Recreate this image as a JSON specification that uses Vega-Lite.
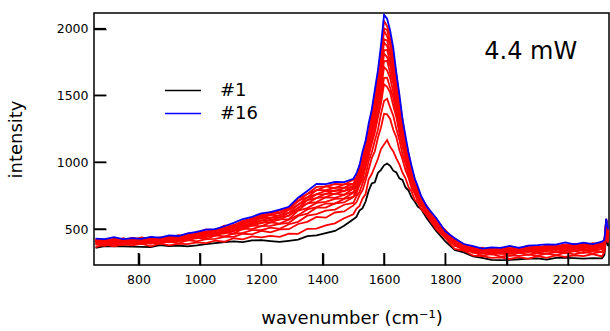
{
 "$schema": "https://vega.github.io/schema/vega-lite/v6.json",
 "width": 515, "height": 252,
 "autosize": {"type": "none"},
 "padding": {"left": 94, "top": 13, "right": 1, "bottom": 66},
 "config": {
  "font": "DejaVu Sans",
  "view": {"stroke": "#000", "strokeWidth": 1.5},
  "axis": {"grid": false, "domain": false, "tickColor": "#000", "tickWidth": 1.5, "tickSize": 12, "offset": -12, "zindex": 1, "labelColor": "#000", "titleColor": "#000", "labelFontSize": 12.5, "titleFontSize": 18, "titleFontWeight": "normal", "labelFont": "DejaVu Sans", "titleFont": "DejaVu Sans"}
 },
 "layer": [
  {
   "data": {"values": [
    {"x":660,"s01":359,"s02":364,"s03":388,"s04":384,"s05":407,"s06":394,"s07":412,"s08":393,"s09":411,"s10":401,"s11":423,"s12":408,"s13":423,"s14":408,"s15":420,"s16":429},
    {"x":690,"s01":373,"s02":384,"s03":375,"s04":395,"s05":390,"s06":411,"s07":399,"s08":413,"s09":400,"s10":412,"s11":402,"s12":420,"s13":407,"s14":422,"s15":415,"s16":424},
    {"x":720,"s01":370,"s02":370,"s03":392,"s04":383,"s05":399,"s06":390,"s07":410,"s08":398,"s09":413,"s10":407,"s11":424,"s12":413,"s13":426,"s14":409,"s15":426,"s16":440},
    {"x":750,"s01":370,"s02":385,"s03":381,"s04":400,"s05":396,"s06":414,"s07":405,"s08":419,"s09":402,"s10":418,"s11":411,"s12":430,"s13":419,"s14":430,"s15":418,"s16":424},
    {"x":780,"s01":368,"s02":378,"s03":400,"s04":387,"s05":407,"s06":400,"s07":422,"s08":410,"s09":423,"s10":411,"s11":423,"s12":413,"s13":431,"s14":418,"s15":434,"s16":432},
    {"x":810,"s01":367,"s02":391,"s03":388,"s04":406,"s05":397,"s06":410,"s07":402,"s08":422,"s09":409,"s10":425,"s11":418,"s12":435,"s13":425,"s14":438,"s15":421,"s16":427},
    {"x":840,"s01":365,"s02":371,"s03":399,"s04":390,"s05":409,"s06":403,"s07":422,"s08":412,"s09":425,"s10":409,"s11":425,"s12":417,"s13":437,"s14":424,"s15":438,"s16":442},
    {"x":870,"s01":380,"s02":392,"s03":391,"s04":409,"s05":396,"s06":413,"s07":407,"s08":431,"s09":416,"s10":429,"s11":417,"s12":429,"s13":421,"s14":437,"s15":424,"s16":436},
    {"x":900,"s01":373,"s02":378,"s03":409,"s04":400,"s05":418,"s06":407,"s07":421,"s08":412,"s09":431,"s10":418,"s11":434,"s12":427,"s13":445,"s14":434,"s15":447,"s16":453},
    {"x":930,"s01":377,"s02":391,"s03":392,"s04":416,"s05":408,"s06":424,"s07":420,"s08":438,"s09":428,"s10":445,"s11":426,"s12":442,"s13":435,"s14":455,"s15":443,"s16":448},
    {"x":960,"s01":371,"s02":387,"s03":418,"s04":413,"s05":432,"s06":417,"s07":436,"s08":434,"s09":452,"s10":440,"s11":454,"s12":442,"s13":455,"s14":445,"s15":465,"s16":468},
    {"x":990,"s01":378,"s02":400,"s03":408,"s04":436,"s05":430,"s06":446,"s07":437,"s08":452,"s09":443,"s10":463,"s11":452,"s12":468,"s13":463,"s14":480,"s15":471,"s16":479},
    {"x":1020,"s01":387,"s02":395,"s03":425,"s04":423,"s05":449,"s06":439,"s07":458,"s08":454,"s09":473,"s10":465,"s11":480,"s12":464,"s13":482,"s14":475,"s15":497,"s16":496},
    {"x":1050,"s01":395,"s02":414,"s03":426,"s04":452,"s05":450,"s06":467,"s07":455,"s08":474,"s09":469,"s10":491,"s11":484,"s12":495,"s13":485,"s14":498,"s15":491,"s16":499},
    {"x":1080,"s01":402,"s02":405,"s03":442,"s04":445,"s05":475,"s06":466,"s07":484,"s08":475,"s09":490,"s10":483,"s11":504,"s12":493,"s13":511,"s14":505,"s15":525,"s16":521},
    {"x":1110,"s01":408,"s02":431,"s03":442,"s04":465,"s05":467,"s06":490,"s07":483,"s08":503,"s09":499,"s10":520,"s11":512,"s12":527,"s13":514,"s14":532,"s15":528,"s16":546},
    {"x":1140,"s01":402,"s02":423,"s03":465,"s04":472,"s05":503,"s06":498,"s07":518,"s08":507,"s09":527,"s10":523,"s11":548,"s12":537,"s13":555,"s14":544,"s15":561,"s16":575},
    {"x":1170,"s01":415,"s02":445,"s03":460,"s04":492,"s05":500,"s06":527,"s07":523,"s08":543,"s09":535,"s10":552,"s11":548,"s12":569,"s13":561,"s14":580,"s15":578,"s16":592},
    {"x":1200,"s01":417,"s02":438,"s03":487,"s04":492,"s05":522,"s06":520,"s07":548,"s08":543,"s09":564,"s10":563,"s11":586,"s12":579,"s13":598,"s14":585,"s15":607,"s16":617},
    {"x":1230,"s01":410,"s02":449,"s03":476,"s04":511,"s05":524,"s06":550,"s07":550,"s08":572,"s09":562,"s10":585,"s11":583,"s12":608,"s13":602,"s14":628,"s15":613,"s16":626},
    {"x":1260,"s01":404,"s02":441,"s03":497,"s04":501,"s05":539,"s06":541,"s07":573,"s08":570,"s09":590,"s10":585,"s11":604,"s12":599,"s13":625,"s14":617,"s15":640,"s16":645},
    {"x":1290,"s01":412,"s02":465,"s03":499,"s04":536,"s05":547,"s06":570,"s07":574,"s08":603,"s09":598,"s10":622,"s11":623,"s12":646,"s13":643,"s14":662,"s15":654,"s16":667},
    {"x":1320,"s01":421,"s02":464,"s03":538,"s04":554,"s05":598,"s06":604,"s07":638,"s08":640,"s09":663,"s10":656,"s11":683,"s12":682,"s13":712,"s14":706,"s15":730,"s16":735},
    {"x":1350,"s01":447,"s02":502,"s03":554,"s04":600,"s05":615,"s06":647,"s07":657,"s08":693,"s09":691,"s10":716,"s11":715,"s12":735,"s13":737,"s14":763,"s15":762,"s16":785},
    {"x":1380,"s01":453,"s02":503,"s03":591,"s04":612,"s05":660,"s06":664,"s07":696,"s08":702,"s09":733,"s10":732,"s11":760,"s12":762,"s13":792,"s14":790,"s15":815,"s16":838},
    {"x":1410,"s01":469,"s02":527,"s03":585,"s04":638,"s05":660,"s06":691,"s07":704,"s08":738,"s09":739,"s10":765,"s11":761,"s12":786,"s13":791,"s14":820,"s15":819,"s16":836},
    {"x":1440,"s01":486,"s02":543,"s03":624,"s04":646,"s05":692,"s06":691,"s07":726,"s08":733,"s09":765,"s10":764,"s11":789,"s12":785,"s13":809,"s14":807,"s15":837,"s16":852},
    {"x":1470,"s01":525,"s02":581,"s03":632,"s04":682,"s05":699,"s06":726,"s07":730,"s08":756,"s09":757,"s10":786,"s11":783,"s12":806,"s13":810,"s14":834,"s15":834,"s16":851},
    {"x":1500,"s01":574,"s02":611,"s03":677,"s04":695,"s05":740,"s06":740,"s07":771,"s08":777,"s09":803,"s10":802,"s11":825,"s12":815,"s13":841,"s14":839,"s15":869,"s16":876},
    {"x":1510,"s01":591,"s02":651,"s03":700,"s04":746,"s05":764,"s06":791,"s07":791,"s08":820,"s09":822,"s10":853,"s11":850,"s12":871,"s13":868,"s14":887,"s15":888,"s16":916},
    {"x":1520,"s01":638,"s02":672,"s03":752,"s04":777,"s05":830,"s06":833,"s07":865,"s08":867,"s09":891,"s10":893,"s11":923,"s12":919,"s13":946,"s14":947,"s15":976,"s16":977},
    {"x":1530,"s01":656,"s02":729,"s03":791,"s04":842,"s05":871,"s06":908,"s07":918,"s08":951,"s09":958,"s10":990,"s11":993,"s12":1017,"s13":1014,"s14":1040,"s15":1047,"s16":1081},
    {"x":1540,"s01":706,"s02":762,"s03":864,"s04":902,"s05":964,"s06":974,"s07":1014,"s08":1018,"s09":1051,"s10":1060,"s11":1096,"s12":1096,"s13":1125,"s14":1124,"s15":1153,"s16":1160},
    {"x":1550,"s01":787,"s02":872,"s03":946,"s04":1009,"s05":1048,"s06":1090,"s07":1105,"s08":1140,"s09":1145,"s10":1174,"s11":1182,"s12":1213,"s13":1217,"s14":1245,"s15":1255,"s16":1290},
    {"x":1560,"s01":841,"s02":912,"s03":1031,"s04":1073,"s05":1140,"s06":1156,"s07":1207,"s08":1220,"s09":1256,"s10":1270,"s11":1307,"s12":1312,"s13":1345,"s14":1343,"s15":1380,"s16":1393},
    {"x":1570,"s01":850,"s02":968,"s03":1082,"s04":1163,"s05":1222,"s06":1271,"s07":1299,"s08":1344,"s09":1352,"s10":1393,"s11":1411,"s12":1449,"s13":1461,"s14":1493,"s15":1505,"s16":1542},
    {"x":1580,"s01":920,"s02":1024,"s03":1183,"s04":1242,"s05":1334,"s06":1363,"s07":1428,"s08":1452,"s09":1494,"s10":1510,"s11":1552,"s12":1563,"s13":1610,"s14":1619,"s15":1663,"s16":1685},
    {"x":1590,"s01":943,"s02":1099,"s03":1259,"s04":1362,"s05":1439,"s06":1495,"s07":1538,"s08":1600,"s09":1622,"s10":1672,"s11":1699,"s12":1742,"s13":1766,"s14":1804,"s15":1822,"s16":1873},
    {"x":1600,"s01":977,"s02":1133,"s03":1362,"s04":1459,"s05":1584,"s06":1631,"s07":1713,"s08":1756,"s09":1812,"s10":1838,"s11":1896,"s12":1920,"s13":1983,"s14":2001,"s15":2057,"s16":2103},
    {"x":1610,"s01":990,"s02":1166,"s03":1358,"s04":1476,"s05":1565,"s06":1632,"s07":1687,"s08":1759,"s09":1787,"s10":1841,"s11":1869,"s12":1911,"s13":1942,"s14":1990,"s15":2018,"s16":2074},
    {"x":1620,"s01":973,"s02":1115,"s03":1324,"s04":1410,"s05":1522,"s06":1558,"s07":1629,"s08":1667,"s09":1723,"s10":1749,"s11":1802,"s12":1824,"s13":1879,"s14":1896,"s15":1948,"s16":1985},
    {"x":1630,"s01":937,"s02":1083,"s03":1243,"s04":1349,"s05":1425,"s06":1483,"s07":1528,"s08":1589,"s09":1612,"s10":1659,"s11":1676,"s12":1717,"s13":1743,"s14":1789,"s15":1810,"s16":1857},
    {"x":1640,"s01":924,"s02":1029,"s03":1188,"s04":1251,"s05":1338,"s06":1357,"s07":1417,"s08":1445,"s09":1493,"s10":1509,"s11":1550,"s12":1558,"s13":1598,"s14":1609,"s15":1656,"s16":1671},
    {"x":1650,"s01":879,"s02":985,"s03":1090,"s04":1169,"s05":1215,"s06":1257,"s07":1279,"s08":1319,"s09":1331,"s10":1372,"s11":1381,"s12":1413,"s13":1428,"s14":1461,"s15":1473,"s16":1508},
    {"x":1660,"s01":867,"s02":923,"s03":1022,"s04":1057,"s05":1120,"s06":1128,"s07":1170,"s08":1184,"s09":1218,"s10":1224,"s11":1253,"s12":1249,"s13":1281,"s14":1285,"s15":1322,"s16":1326},
    {"x":1670,"s01":811,"s02":880,"s03":941,"s04":993,"s05":1017,"s06":1046,"s07":1050,"s08":1082,"s09":1087,"s10":1120,"s11":1119,"s12":1142,"s13":1141,"s14":1162,"s15":1165,"s16":1196},
    {"x":1680,"s01":788,"s02":813,"s03":882,"s04":901,"s05":948,"s06":947,"s07":976,"s08":975,"s09":997,"s10":996,"s11":1024,"s12":1018,"s13":1042,"s14":1042,"s15":1068,"s16":1067},
    {"x":1690,"s01":736,"s02":780,"s03":807,"s04":839,"s05":849,"s06":876,"s07":874,"s08":898,"s09":898,"s10":922,"s11":917,"s12":935,"s13":925,"s14":945,"s15":944,"s16":971},
    {"x":1700,"s01":706,"s02":718,"s03":765,"s04":774,"s05":807,"s06":803,"s07":825,"s08":815,"s09":836,"s10":833,"s11":859,"s12":849,"s13":867,"s14":858,"s15":875,"s16":878},
    {"x":1710,"s01":667,"s02":699,"s03":707,"s04":735,"s05":739,"s06":764,"s07":757,"s08":775,"s09":766,"s10":781,"s11":775,"s12":795,"s13":786,"s14":803,"s15":799,"s16":820},
    {"x":1720,"s01":651,"s02":653,"s03":684,"s04":680,"s05":701,"s06":695,"s07":718,"s08":708,"s09":725,"s10":721,"s11":740,"s12":731,"s13":746,"s14":730,"s15":749,"s16":752},
    {"x":1740,"s01":580,"s02":600,"s03":602,"s04":624,"s05":624,"s06":643,"s07":636,"s08":651,"s09":636,"s10":653,"s11":647,"s12":668,"s13":656,"s14":670,"s15":658,"s16":666},
    {"x":1770,"s01":486,"s02":500,"s03":527,"s04":516,"s05":539,"s06":533,"s07":556,"s08":546,"s09":560,"s10":548,"s11":562,"s12":552,"s13":572,"s14":559,"s15":576,"s16":583},
    {"x":1800,"s01":407,"s02":433,"s03":433,"s04":452,"s05":445,"s06":459,"s07":452,"s08":472,"s09":460,"s10":476,"s11":471,"s12":488,"s13":478,"s14":492,"s15":476,"s16":482},
    {"x":1830,"s01":343,"s02":351,"s03":382,"s04":374,"s05":395,"s06":389,"s07":409,"s08":400,"s09":414,"s10":398,"s11":415,"s12":407,"s13":428,"s14":415,"s15":429,"s16":432},
    {"x":1860,"s01":325,"s02":339,"s03":339,"s04":357,"s05":345,"s06":362,"s07":357,"s08":378,"s09":366,"s10":380,"s11":367,"s12":380,"s13":370,"s14":388,"s15":376,"s16":388},
    {"x":1890,"s01":296,"s02":301,"s03":331,"s04":322,"s05":340,"s06":328,"s07":342,"s08":333,"s09":351,"s10":341,"s11":354,"s12":347,"s13":365,"s14":354,"s15":367,"s16":373},
    {"x":1920,"s01":284,"s02":298,"s03":299,"s04":322,"s05":314,"s06":330,"s07":326,"s08":344,"s09":334,"s10":348,"s11":331,"s12":348,"s13":340,"s14":360,"s15":348,"s16":353},
    {"x":1950,"s01":269,"s02":285,"s03":314,"s04":309,"s05":328,"s06":312,"s07":331,"s08":325,"s09":346,"s10":334,"s11":348,"s12":335,"s13":349,"s14":339,"s15":358,"s16":363},
    {"x":1980,"s01":267,"s02":288,"s03":294,"s04":320,"s05":314,"s06":329,"s07":319,"s08":334,"s09":325,"s10":344,"s11":333,"s12":348,"s13":343,"s14":360,"s15":351,"s16":359},
    {"x":2010,"s01":269,"s02":276,"s03":303,"s04":300,"s05":326,"s06":315,"s07":334,"s08":329,"s09":348,"s10":339,"s11":353,"s12":337,"s13":355,"s14":348,"s15":369,"s16":374},
    {"x":2040,"s01":274,"s02":290,"s03":299,"s04":323,"s05":320,"s06":335,"s07":322,"s08":341,"s09":335,"s10":356,"s11":345,"s12":359,"s13":348,"s14":360,"s15":352,"s16":360},
    {"x":2070,"s01":278,"s02":277,"s03":309,"s04":309,"s05":337,"s06":327,"s07":343,"s08":333,"s09":347,"s10":339,"s11":359,"s12":347,"s13":363,"s14":357,"s15":376,"s16":376},
    {"x":2100,"s01":281,"s02":298,"s03":301,"s04":321,"s05":319,"s06":340,"s07":331,"s08":349,"s09":344,"s10":362,"s11":353,"s12":367,"s13":352,"s14":369,"s15":363,"s16":380},
    {"x":2130,"s01":272,"s02":284,"s03":316,"s04":317,"s05":342,"s06":334,"s07":351,"s08":337,"s09":355,"s10":349,"s11":371,"s12":359,"s13":374,"s14":362,"s15":376,"s16":386},
    {"x":2160,"s01":285,"s02":303,"s03":304,"s04":328,"s05":328,"s06":351,"s07":342,"s08":358,"s09":347,"s10":362,"s11":354,"s12":373,"s13":362,"s14":378,"s15":373,"s16":384},
    {"x":2190,"s01":285,"s02":292,"s03":323,"s04":319,"s05":339,"s06":333,"s07":355,"s08":345,"s09":362,"s10":358,"s11":377,"s12":367,"s13":382,"s14":367,"s15":385,"s16":400},
    {"x":2220,"s01":282,"s02":304,"s03":310,"s04":334,"s05":335,"s06":356,"s07":349,"s08":366,"s09":351,"s10":369,"s11":364,"s12":385,"s13":374,"s14":388,"s15":378,"s16":386},
    {"x":2250,"s01":279,"s02":297,"s03":328,"s04":320,"s05":345,"s06":341,"s07":366,"s08":356,"s09":371,"s10":361,"s11":375,"s12":367,"s13":387,"s14":375,"s15":393,"s16":398},
    {"x":2280,"s01":282,"s02":313,"s03":318,"s04":340,"s05":336,"s06":352,"s07":347,"s08":368,"s09":357,"s10":375,"s11":370,"s12":389,"s13":380,"s14":394,"s15":380,"s16":387},
    {"x":2310,"s01":281,"s02":295,"s03":331,"s04":327,"s05":351,"s06":348,"s07":370,"s08":362,"s09":377,"s10":363,"s11":381,"s12":375,"s13":397,"s14":385,"s15":401,"s16":406},
    {"x":2318,"s01":307,"s02":328,"s03":338,"s04":361,"s05":354,"s06":374,"s07":371,"s08":395,"s09":385,"s10":401,"s11":390,"s12":404,"s13":397,"s14":416,"s15":406,"s16":420},
    {"x":2324,"s01":433,"s02":445,"s03":490,"s04":490,"s05":515,"s06":508,"s07":526,"s08":522,"s09":543,"s10":534,"s11":553,"s12":548,"s13":569,"s14":560,"s15":577,"s16":578},
    {"x":2330,"s01":372,"s02":399,"s03":407,"s04":434,"s05":430,"s06":449,"s07":447,"s08":467,"s09":458,"s10":474,"s11":459,"s12":477,"s13":471,"s14":492,"s15":482,"s16":497}
   ]},
   "transform": [{"fold": ["s01","s02","s03","s04","s05","s06","s07","s08","s09","s10","s11","s12","s13","s14","s15","s16"], "as": ["series", "intensity"]}],
   "mark": {"type": "line", "strokeWidth": 1.8, "clip": true},
   "encoding": {
    "x": {"field": "x", "type": "quantitative", "scale": {"domain": [655, 2333], "nice": false, "zero": false},
          "axis": {"values": [800,1000,1200,1400,1600,1800,2000,2200], "format": "d", "labelPadding": 8, "title": "wavenumber (cm⁻¹)", "titlePadding": 24}},
    "y": {"field": "intensity", "type": "quantitative", "scale": {"domain": [231, 2117], "nice": false, "zero": false},
          "axis": {"values": [500,1000,1500,2000], "format": "d", "labelPadding": 6, "title": "intensity", "titlePadding": 31}},
    "color": {"field": "series", "type": "nominal",
      "scale": {"domain": ["s01","s02","s03","s04","s05","s06","s07","s08","s09","s10","s11","s12","s13","s14","s15","s16"],
                "range": ["#000000","#ff0000","#ff0000","#ff0000","#ff0000","#ff0000","#ff0000","#ff0000","#ff0000","#ff0000","#ff0000","#ff0000","#ff0000","#ff0000","#ff0000","#0000ff"]},
      "legend": {"values": ["s01","s16"], "labelExpr": "datum.value == 's01' ? '#1' : '#16'", "title": null, "orient": "none", "legendX": 70, "legendY": 67,
                 "symbolType": "stroke", "symbolSize": 1300, "symbolStrokeWidth": 1.5, "labelFontSize": 18, "labelFont": "DejaVu Sans", "labelColor": "#000", "labelOffset": 18, "clipHeight": 21, "rowPadding": 2, "padding": 0}}
   }
  },
  {
   "data": {"values": [{"x": 800}, {"x": 1000}, {"x": 1200}, {"x": 1400}, {"x": 1600}, {"x": 1800}, {"x": 2000}, {"x": 2200}]},
   "mark": {"type": "rule", "color": "#000", "strokeWidth": 1.5},
   "encoding": {"x": {"field": "x", "type": "quantitative"}, "y": {"datum": 231}, "y2": {"datum": 320.8}}
  },
  {
   "data": {"values": [{"intensity": 500}, {"intensity": 1000}, {"intensity": 1500}, {"intensity": 2000}]},
   "mark": {"type": "rule", "color": "#000", "strokeWidth": 1.5},
   "encoding": {"y": {"field": "intensity", "type": "quantitative"}, "x": {"datum": 655}, "x2": {"datum": 694.1}}
  },
  {
   "data": {"values": [{"label": "4.4 mW"}]},
   "mark": {"type": "text", "fontSize": 24, "font": "DejaVu Sans", "align": "center", "baseline": "middle", "color": "#000"},
   "encoding": {"x": {"datum": 2078}, "y": {"datum": 1825}, "text": {"field": "label"}}
  }
 ]
}
